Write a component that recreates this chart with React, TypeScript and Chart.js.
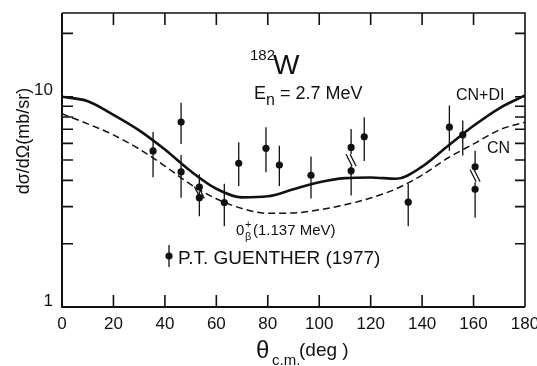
import React, { useEffect, useRef } from 'react';
import { Chart, registerables } from 'chart.js';

Chart.register(...registerables);

const FONT = '"Liberation Sans", Arial, sans-serif';
const INK = '#111111';

// Calculated cross sections sampled every 10 degrees
const curveTheta = [0, 10, 20, 30, 40, 50, 60, 70, 80, 90, 100, 110, 120, 130, 140, 150, 160, 170, 180];
// compound nucleus + direct interaction
const cnDiValue = [9.99, 9.52, 8.2, 6.92, 5.61, 4.43, 3.65, 3.32, 3.36, 3.63, 3.92, 4.1, 4.13, 4.07, 4.65, 5.83, 7.27, 8.81, 10.14];
// compound nucleus only
const cnValue = [8.29, 7.43, 6.58, 5.64, 4.68, 3.83, 3.27, 2.94, 2.79, 2.8, 2.9, 3.06, 3.3, 3.65, 4.24, 5.11, 5.96, 6.95, 7.57];

// Measured points (P.T. Guenther 1977) with error bar limits
const expTheta = [35.4, 46.3, 46.3, 53.4, 53.4, 63.1, 68.7, 79.3, 84.5, 96.8, 112.4, 112.4, 117.5, 134.6, 150.6, 155.8, 160.6, 160.6];
const expValue = [5.52, 7.57, 4.39, 3.72, 3.31, 3.14, 4.82, 5.68, 4.73, 4.23, 5.74, 4.44, 6.45, 3.15, 7.16, 6.58, 4.64, 3.63];
const expLow = [4.14, 5.96, 3.31, 3.63, 2.7, 2.42, 3.76, 4.37, 3.76, 3.28, 5.34, 3.39, 4.95, 2.42, 5.53, 5.25, 4.52, 2.66];
const expHigh = [6.8, 9.36, 5.28, 4.28, 3.55, 3.86, 6.07, 7.16, 5.84, 5.2, 7.03, 4.68, 7.99, 3.86, 9.09, 7.7, 5.53, 3.92];

// Angles where two unresolved measurements are marked with a double slash
const splitTheta = [53.4, 112.4, 160.6];
const splitValue = [3.5, 4.99, 4.21];

// Axis ticks
const xMinorTicks = [20, 40, 60, 80, 100, 120, 140, 160];
const yLabelTicks = [1, 10];
const yMinorTicks = [2, 3, 4, 5, 6, 7, 8, 9, 10, 20];

const toXY = (xs: number[], ys: number[]) => xs.map((x, i) => ({ x, y: ys[i] }));

const errorBarData = () => {
  const out: { x: number; y: number | null }[] = [];
  expTheta.forEach((t, i) => {
    out.push({ x: t, y: expLow[i] });
    out.push({ x: t, y: expHigh[i] });
    out.push({ x: t, y: null });
  });
  return out;
};

type Seg = { text: string; size: number; dy?: number };

function drawSegments(ctx: CanvasRenderingContext2D, x: number, y: number, segs: Seg[]) {
  let cx = x;
  ctx.textAlign = 'left';
  ctx.textBaseline = 'alphabetic';
  for (const s of segs) {
    ctx.font = `${s.size}px ${FONT}`;
    ctx.fillText(s.text, cx, y + (s.dy || 0));
    cx += ctx.measureText(s.text).width;
  }
}

const zeroPadding = (scale: any) => {
  scale.paddingLeft = 0;
  scale.paddingRight = 0;
  scale.paddingTop = 0;
  scale.paddingBottom = 0;
};

const decorPlugin = {
  id: 'decor',
  beforeDraw(chart: any) {
    const { ctx, width, height } = chart;
    ctx.save();
    ctx.fillStyle = '#ffffff';
    ctx.fillRect(0, 0, width, height);
    ctx.restore();
  },
  afterDraw(chart: any) {
    const { ctx, chartArea: a, scales } = chart;
    const xs = scales.x;
    const ys = scales.y;
    ctx.save();
    ctx.strokeStyle = INK;
    ctx.fillStyle = INK;
    ctx.lineCap = 'butt';

    // frame
    ctx.lineWidth = 2;
    ctx.beginPath();
    ctx.moveTo(a.left, a.top);
    ctx.lineTo(a.left, a.bottom);
    ctx.lineTo(a.right, a.bottom);
    ctx.stroke();
    ctx.lineWidth = 1.6;
    ctx.beginPath();
    ctx.moveTo(a.left, a.top);
    ctx.lineTo(a.right, a.top);
    ctx.lineTo(a.right, a.bottom);
    ctx.stroke();

    // inward tick marks
    ctx.lineWidth = 1.6;
    ctx.beginPath();
    for (const t of xMinorTicks) {
      const px = xs.getPixelForValue(t);
      ctx.moveTo(px, a.bottom);
      ctx.lineTo(px, a.bottom - 12);
      ctx.moveTo(px, a.top);
      ctx.lineTo(px, a.top + 12);
    }
    for (const t of yMinorTicks) {
      const py = ys.getPixelForValue(t);
      ctx.moveTo(a.left, py);
      ctx.lineTo(a.left + 11, py);
      ctx.moveTo(a.right, py);
      ctx.lineTo(a.right - 10, py);
    }
    ctx.stroke();

    // double slashes between unresolved pairs
    ctx.lineWidth = 1.3;
    ctx.beginPath();
    splitTheta.forEach((t, i) => {
      const px = xs.getPixelForValue(t);
      const py = ys.getPixelForValue(splitValue[i]);
      for (const off of [-2, 2]) {
        ctx.moveTo(px + off - 3, py - 6);
        ctx.lineTo(px + off + 3, py + 6);
      }
    });
    ctx.stroke();

    // nucleus and energy
    drawSegments(ctx, 250, 60, [{ text: '182', size: 15 }]);
    drawSegments(ctx, 273, 74, [{ text: 'W', size: 28 }]);
    drawSegments(ctx, 254, 99, [
      { text: 'E', size: 18 },
      { text: 'n', size: 16, dy: 6 },
      { text: ' = 2.7 MeV', size: 18 },
    ]);

    // curve labels
    drawSegments(ctx, 456, 100, [{ text: 'CN+DI', size: 16 }]);
    drawSegments(ctx, 487, 153, [{ text: 'CN', size: 16 }]);

    // level label
    drawSegments(ctx, 236, 235, [{ text: '0', size: 15 }]);
    ctx.font = `11px ${FONT}`;
    ctx.fillText('+', 245, 228);
    ctx.fillText('\u03b2', 245, 240);
    drawSegments(ctx, 253, 235, [{ text: '(1.137 MeV)', size: 15 }]);

    // data legend
    ctx.lineWidth = 1.3;
    ctx.beginPath();
    ctx.moveTo(169, 245);
    ctx.lineTo(169, 267);
    ctx.stroke();
    ctx.beginPath();
    ctx.arc(169, 256, 3.6, 0, Math.PI * 2);
    ctx.fill();
    drawSegments(ctx, 178, 264, [{ text: 'P.T. GUENTHER (1977)', size: 19 }]);

    // axis titles
    ctx.save();
    ctx.translate(29, 141);
    ctx.rotate(-Math.PI / 2);
    ctx.font = `18px ${FONT}`;
    ctx.textAlign = 'center';
    ctx.textBaseline = 'alphabetic';
    ctx.fillText('d\u03c3/d\u03a9(mb/sr)', 0, 0);
    ctx.restore();

    drawSegments(ctx, 256, 358, [{ text: '\u03b8', size: 24 }]);
    drawSegments(ctx, 272, 365, [{ text: 'c.m.', size: 15 }]);
    drawSegments(ctx, 299, 356, [{ text: '(deg )', size: 19 }]);

    ctx.restore();
  },
};

export default function App() {
  const canvasRef = useRef<HTMLCanvasElement | null>(null);

  useEffect(() => {
    if (!canvasRef.current) return;
    const chart = new Chart(canvasRef.current, {
      type: 'line',
      data: {
        datasets: [
          {
            label: 'CN+DI',
            data: toXY(curveTheta, cnDiValue),
            borderColor: INK,
            borderWidth: 2.6,
            pointRadius: 0,
            cubicInterpolationMode: 'monotone',
            fill: false,
          },
          {
            label: 'CN',
            data: toXY(curveTheta, cnValue),
            borderColor: INK,
            borderWidth: 1.5,
            borderDash: [7, 4],
            pointRadius: 0,
            cubicInterpolationMode: 'monotone',
            fill: false,
          },
          {
            label: 'errors',
            data: errorBarData() as any,
            borderColor: INK,
            borderWidth: 1.3,
            pointRadius: 0,
            spanGaps: false,
            tension: 0,
            fill: false,
          },
          {
            label: 'P.T. GUENTHER (1977)',
            data: toXY(expTheta, expValue),
            showLine: false,
            pointRadius: 3.6,
            pointBackgroundColor: INK,
            pointBorderColor: INK,
            pointBorderWidth: 0,
          },
        ],
      },
      options: {
        animation: false,
        responsive: false,
        maintainAspectRatio: false,
        devicePixelRatio: 1,
        layout: { padding: { left: 0, right: 12, top: 13, bottom: 0 } },
        plugins: {
          legend: { display: false },
          tooltip: { enabled: false },
        },
        scales: {
          x: {
            type: 'linear',
            min: 0,
            max: 180,
            grid: { display: false, drawTicks: false },
            border: { display: false },
            ticks: {
              stepSize: 20,
              color: INK,
              padding: 7,
              maxRotation: 0,
              font: { family: FONT, size: 17 },
            },
            afterFit(scale: any) {
              scale.height = 59;
              zeroPadding(scale);
            },
          },
          y: {
            type: 'logarithmic',
            min: 1,
            max: 25,
            grid: { display: false, drawTicks: false },
            border: { display: false },
            afterBuildTicks(scale: any) {
              scale.ticks = yLabelTicks.map((v) => ({ value: v }));
            },
            ticks: {
              color: INK,
              padding: 9,
              labelOffset: -6,
              font: { family: FONT, size: 17 },
              callback: (v: any) => String(v),
            },
            afterFit(scale: any) {
              scale.width = 62;
              zeroPadding(scale);
            },
          },
        },
      },
      plugins: [decorPlugin],
    });
    return () => chart.destroy();
  }, []);

  return (
    <div style={{ position: 'fixed', left: 0, top: 0, width: 537, height: 366, background: '#fff' }}>
      <canvas ref={canvasRef} width={537} height={366} style={{ display: 'block', width: 537, height: 366 }} />
    </div>
  );
}
